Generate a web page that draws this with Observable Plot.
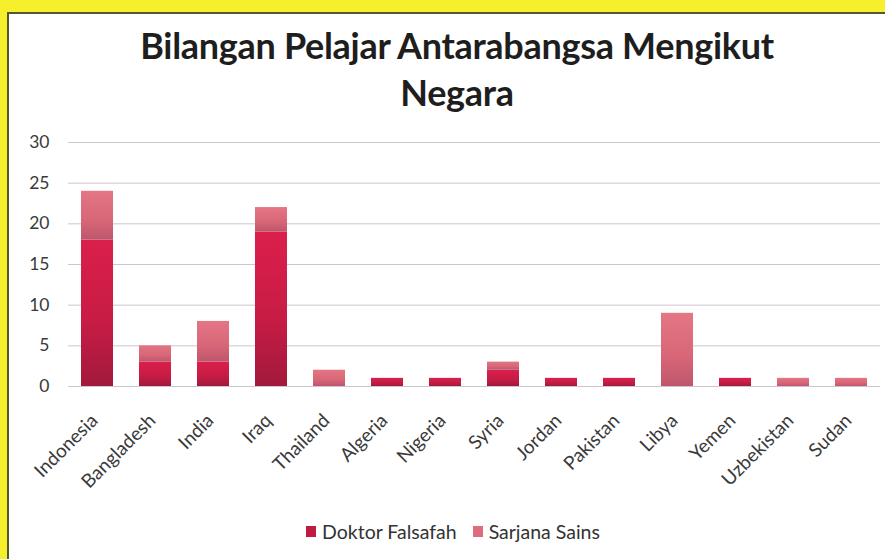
<!DOCTYPE html>
<html>
<head>
<meta charset="utf-8">
<script src="https://cdn.jsdelivr.net/npm/d3@7"></script>
<script src="https://cdn.jsdelivr.net/npm/@observablehq/plot@0.6"></script>
<style>
  html, body { margin: 0; padding: 0; }
  body { width: 885px; height: 559px; overflow: hidden; background: #f5ef2c; position: relative; font-family: Lato, "Open Sans", sans-serif; }
  #panel { position: absolute; left: 7px; top: 12px; width: 878px; height: 547px; background: #fff; border-left: 2px solid #55552e; border-top: 2px solid #55552e; box-sizing: border-box; }
  #title { position: absolute; left: 0; top: 8px; width: 100%; text-align: center; font-weight: 700; font-size: 36px; line-height: 47px; color: #1e1e1e; padding-left: 20px; box-sizing: border-box; letter-spacing: -0.3px; }
  #chart { position: absolute; left: 0; top: 111px; }
  #legend { position: absolute; left: 0; top: 506px; width: 100%; display: flex; justify-content: center; gap: 16px; font-size: 19.5px; color: #333; padding-left: 12px; box-sizing: border-box; }
  #legend span.item { display: inline-flex; align-items: center; gap: 6px; }
  #legend span.sw { width: 10px; height: 11px; display: inline-block; }
</style>
</head>
<body>
<div id="panel">
  <div id="title">Bilangan Pelajar Antarabangsa Mengikut<br>Negara</div>
  <div id="chart"></div>
  <div id="legend"></div>
</div>
<script>
const countries = ["Indonesia", "Bangladesh", "India", "Iraq", "Thailand", "Algeria", "Nigeria", "Syria", "Jordan", "Pakistan", "Libya", "Yemen", "Uzbekistan", "Sudan"];
const seriesNames = ["Doktor Falsafah", "Sarjana Sains"];
const doktorFalsafah = [18, 3, 3, 19, 0, 1, 1, 2, 1, 1, 0, 1, 0, 0];
const sarjanaSains = [6, 2, 5, 3, 2, 0, 0, 1, 0, 0, 9, 0, 1, 1];
const yTicks = [0, 5, 10, 15, 20, 25, 30];
const seriesColors = ["#c01a40", "#de6c7c"];

const data = [];
countries.forEach((c, i) => {
  data.push({country: c, series: seriesNames[0], value: doktorFalsafah[i]});
  data.push({country: c, series: seriesNames[1], value: sarjanaSains[i]});
});

function gradients() {
  const defs = d3.create("svg:defs");
  const g1 = defs.append("linearGradient").attr("id", "gD").attr("x1", 0).attr("y1", 0).attr("x2", 0).attr("y2", 1);
  g1.append("stop").attr("offset", "0%").attr("stop-color", "#da1f4b");
  g1.append("stop").attr("offset", "55%").attr("stop-color", "#c81c45");
  g1.append("stop").attr("offset", "100%").attr("stop-color", "#a2193d");
  const g2 = defs.append("linearGradient").attr("id", "gS").attr("x1", 0).attr("y1", 0).attr("x2", 0).attr("y2", 1);
  g2.append("stop").attr("offset", "0%").attr("stop-color", "#e47684");
  g2.append("stop").attr("offset", "60%").attr("stop-color", "#d86677");
  g2.append("stop").attr("offset", "100%").attr("stop-color", "#bf566c");
  return defs.node();
}

const chart = Plot.plot({
  width: 876,
  height: 378,
  marginLeft: 59,
  marginRight: 5,
  marginTop: 17,
  marginBottom: 117,
  style: {fontFamily: "Lato, sans-serif", fontSize: "16px", color: "#3a3a3a", background: "transparent"},
  x: {domain: countries, paddingInner: 0.45, paddingOuter: 0.225, label: null},
  y: {domain: [0, 30], ticks: yTicks, label: null},
  color: {domain: seriesNames, range: ["url(#gD)", "url(#gS)"]},
  marks: [
    gradients,
    Plot.gridY(yTicks, {stroke: "#cbc5cd", strokeOpacity: 1, strokeWidth: 1}),
    Plot.barY(data, {x: "country", y: "value", fill: "series"}),
    Plot.axisY({ticks: yTicks, tickSize: 0, tickPadding: 19, label: null, fontSize: 17.5}),
    Plot.axisX({tickSize: 0, tickRotate: -45, tickPadding: 31, dx: -3, label: null, fontSize: 19})
  ]
});
document.getElementById("chart").appendChild(chart);

const legend = document.getElementById("legend");
seriesNames.forEach((s, i) => {
  const item = document.createElement("span");
  item.className = "item";
  const sw = document.createElement("span");
  sw.className = "sw";
  sw.style.background = seriesColors[i];
  const t = document.createElement("span");
  t.textContent = s;
  item.appendChild(sw);
  item.appendChild(t);
  legend.appendChild(item);
});
</script>
</body>
</html>
